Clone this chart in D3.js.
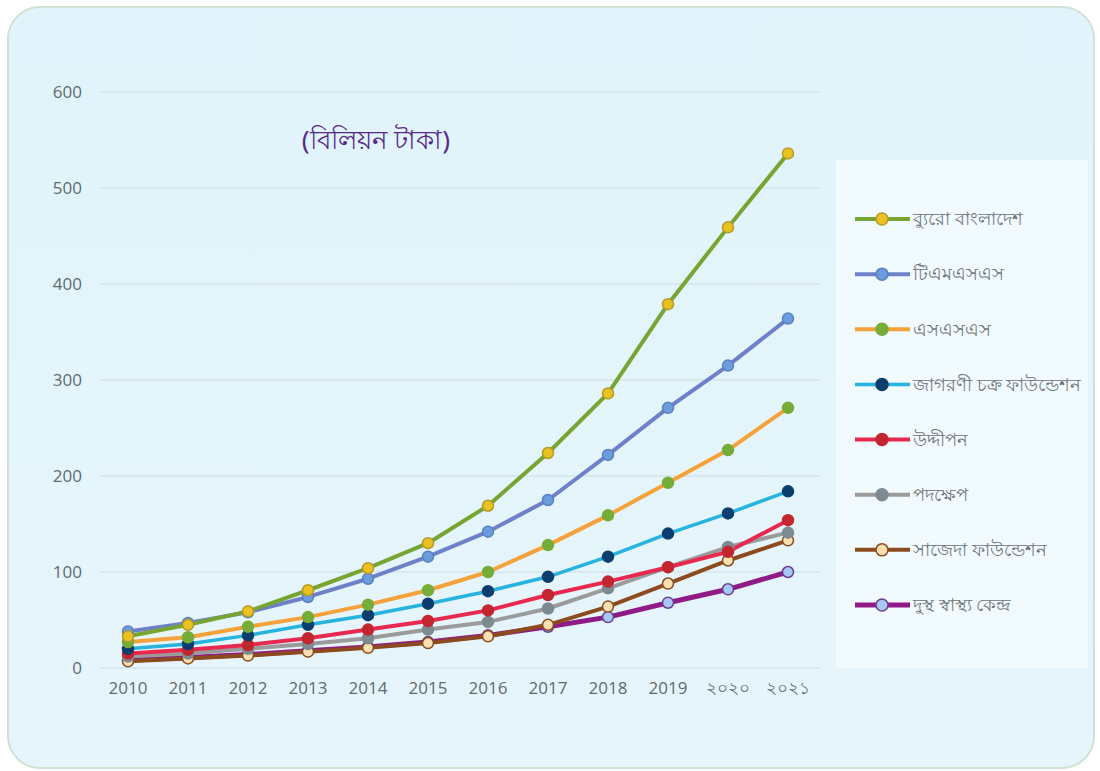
<!DOCTYPE html>
<html><head><meta charset="utf-8">
<script src="https://cdn.jsdelivr.net/npm/d3@7"></script>
<style>
html,body{margin:0;padding:0;background:#ffffff;}
svg{display:block;}
</style></head>
<body>
<svg id="chart" width="1100" height="771"></svg>
<script>
const years = ["2010","2011","2012","2013","2014","2015","2016","2017","2018","2019","২০২০","২০২১"];
const yTicks = [0,100,200,300,400,500,600];
const seriesNames = ["ব্যুরো বাংলাদেশ","টিএমএসএস","এসএসএস","জাগরণী চক্র ফাউন্ডেশন","উদ্দীপন","পদক্ষেপ","সাজেদা ফাউন্ডেশন","দুস্থ স্বাস্থ্য কেন্দ্র"];
const buro      = [33,45,59,81,104,130,169,224,286,379,459,536];
const tmss      = [38,47,58,74,93,116,142,175,222,271,315,364];
const third     = [27,32,43,53,66,81,100,128,159,193,227,271];
const jagorani  = [20,25,34,45,55,67,80,95,116,140,161,184];
const uddipan   = [15,19,24,31,40,49,60,76,90,105,121,154];
const padakhep  = [12,15,20,25,31,40,48,62,83,105,126,141];
const sajeda    = [7,10,13,17,21,26,33,45,64,88,112,133];
const last      = [8,11,14,18,22,27,34,43,53,68,82,100];
const title = "(বিলিয়ন টাকা)";

const seriesValues = [buro,tmss,third,jagorani,uddipan,padakhep,sajeda,last];
const styles = [
  {line:"#76a531", fill:"#e9c21f", stroke:"#b59a2a", w:4},
  {line:"#6d80c8", fill:"#6b9ddc", stroke:"#5a80c0", w:4},
  {line:"#f6a23a", fill:"#76ad38", stroke:"#76ad38", w:4},
  {line:"#26b3de", fill:"#0b3d6e", stroke:"#0b3d6e", w:3.5},
  {line:"#e8294f", fill:"#c3262f", stroke:"#c3262f", w:4},
  {line:"#9b9b9b", fill:"#7e8a92", stroke:"#7e8a92", w:4},
  {line:"#8c4b1e", fill:"#fbe0b2", stroke:"#8c4b1e", w:4},
  {line:"#901a86", fill:"#a6c8f2", stroke:"#6a3e96", w:5}
];

const svg = d3.select("#chart");
const defs = svg.append("defs");
const grad = defs.append("linearGradient").attr("id","bg").attr("x1","0").attr("y1","0").attr("x2","0").attr("y2","1");
grad.append("stop").attr("offset","0%").attr("stop-color","#e1f4fb");
grad.append("stop").attr("offset","100%").attr("stop-color","#e6f5fb");

svg.append("rect").attr("x",8).attr("y",7).attr("width",1086).attr("height",761)
  .attr("rx",32).attr("ry",32).attr("fill","url(#bg)").attr("stroke","#cfe2d4").attr("stroke-width",2);

// legend panel
svg.append("rect").attr("x",836).attr("y",160).attr("width",252).attr("height",508)
  .attr("fill","#f1fafd");

const x = d3.scaleBand().domain(years).range([98,818]);
const y = d3.scaleLinear().domain([0,600]).range([668,92]);

// gridlines
svg.append("g").selectAll("line").data(yTicks).join("line")
  .attr("x1",100).attr("x2",820).attr("y1",d=>y(d)).attr("y2",d=>y(d))
  .attr("stroke","#d4e4ea").attr("stroke-width",1.5);

// y axis
const yAxis = d3.axisLeft(y).tickValues(yTicks).tickSize(0).tickPadding(0);
const gy = svg.append("g").attr("transform","translate(82,0)").call(yAxis);
gy.select(".domain").remove();
gy.selectAll("text").attr("font-family","'Open Sans', sans-serif").attr("font-size",17).attr("fill","#5d6b73");

// x axis
const xAxis = d3.axisBottom(x).tickSize(0).tickPadding(0);
const gx = svg.append("g").attr("transform","translate(0,682)").call(xAxis);
gx.select(".domain").remove();
gx.selectAll("text").attr("font-family","'Open Sans', sans-serif").attr("font-size",17).attr("fill","#5d6b73").attr("dy","0.71em");

// title
svg.append("text").attr("x",376).attr("y",149).attr("text-anchor","middle")
  .attr("font-family","'Noto Sans', sans-serif").attr("font-size",26).attr("fill","#572a8a").text(title);

const line = d3.line().x((d,i)=>x(years[i])+x.bandwidth()/2).y(d=>y(d));

// draw lines (last series first so top series is on top)
const order = [7,6,5,4,3,2,1,0];
order.forEach(k=>{
  const s = styles[k];
  svg.append("path").datum(seriesValues[k]).attr("d",line)
    .attr("fill","none").attr("stroke",s.line).attr("stroke-width",s.w)
    .attr("stroke-linejoin","round");
});
order.forEach(k=>{
  const s = styles[k];
  svg.append("g").selectAll("circle").data(seriesValues[k]).join("circle")
    .attr("cx",(d,i)=>x(years[i])+x.bandwidth()/2).attr("cy",d=>y(d)).attr("r",5.5)
    .attr("fill",s.fill).attr("stroke",s.stroke).attr("stroke-width",1.5);
});

// legend
const lg = svg.append("g");
const ly = d3.scalePoint().domain(d3.range(8)).range([219,605]);
seriesNames.forEach((name,k)=>{
  const s = styles[k];
  const yy = ly(k);
  lg.append("line").attr("x1",855).attr("x2",910).attr("y1",yy).attr("y2",yy)
    .attr("stroke",s.line).attr("stroke-width",s.w);
  lg.append("circle").attr("cx",882).attr("cy",yy).attr("r",6)
    .attr("fill",s.fill).attr("stroke",s.stroke).attr("stroke-width",1.5);
  lg.append("text").attr("x",913).attr("y",yy).attr("dy","0.35em")
    .attr("font-family","'Noto Sans', sans-serif").attr("font-size",18).attr("fill","#6b7479").text(name);
});
</script>
</body></html>
